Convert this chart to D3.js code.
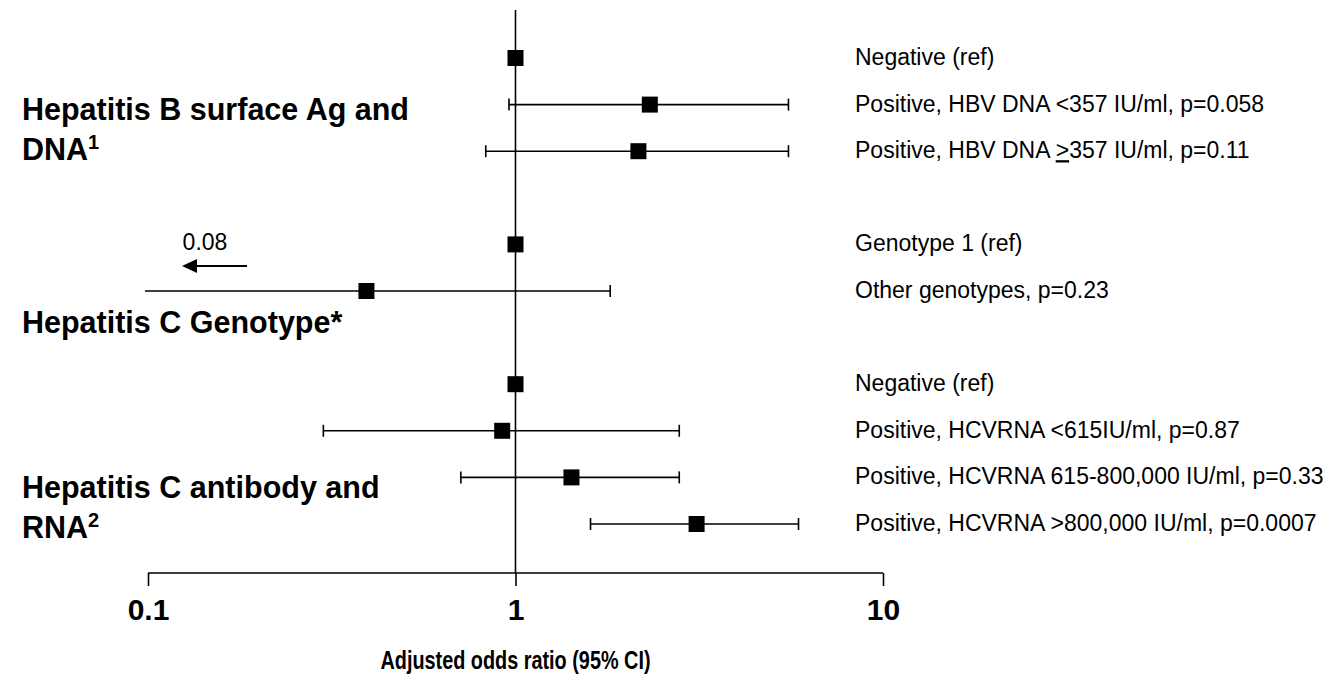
<!DOCTYPE html>
<html>
<head>
<meta charset="utf-8">
<script src="https://cdn.jsdelivr.net/npm/d3@7"></script>
<style>
	body { margin: 0; background: #fff; }
	text { font-family: "Liberation Sans", Arial, sans-serif; fill: #000; }
	.group { font-size: 30.5px; font-weight: bold; }
	.rowlabel { font-size: 23px; }
	.tick-label { font-size: 30px; font-weight: bold; }
	.axis-title { font-size: 25px; font-weight: bold; }
</style>
</head>
<body>
<script>
// rows, top to bottom; empty keys are spacer rows between groups
var rowKeys = ['hbNeg', 'hbLow', 'hbHigh', 'gap1', 'gt1', 'gtOther', 'gap2', 'hcNeg', 'hcLow', 'hcMid', 'hcHigh'];
var rowLabels = ['Negative (ref)', 'Positive, HBV DNA <357 IU/ml, p=0.058', 'Positive, HBV DNA \u2265357 IU/ml, p=0.11', '',
	'Genotype 1 (ref)', 'Other genotypes, p=0.23', '',
	'Negative (ref)', 'Positive, HCVRNA <615IU/ml, p=0.87', 'Positive, HCVRNA 615-800,000 IU/ml, p=0.33', 'Positive, HCVRNA >800,000 IU/ml, p=0.0007'];
var oddsRatio = [1, 2.32, 2.16, null, 1, 0.393, null, 1, 0.92, 1.42, 3.11];
var ciLower = [null, 0.96, 0.83, null, null, 0.08, null, null, 0.30, 0.71, 1.60];
var ciUpper = [null, 5.53, 5.53, null, null, 1.81, null, null, 2.79, 2.79, 5.89];
var tickValues = [0.1, 1, 10];
var truncatedLabel = '0.08';

var width = 1336, height = 682;

var svg = d3.select('body')
	.append('svg')
	.attr('width', width)
	.attr('height', height);

var x = d3.scaleLog()
	.domain([0.1, 10])
	.range([148, 883]);

var y = d3.scalePoint()
	.domain(rowKeys)
	.range([58, 524]);

var axisY = 573;

var rows = rowKeys.map(function(k, i) {
	return { key: k, label: rowLabels[i], or: oddsRatio[i], lo: ciLower[i], hi: ciUpper[i] };
}).filter(function(d) { return d.or !== null; });

// reference line at OR = 1
svg.append('line')
	.attr('x1', x(1)).attr('x2', x(1))
	.attr('y1', 10).attr('y2', axisY)
	.attr('stroke', '#000')
	.attr('stroke-width', 1.6);

// x axis
var axis = d3.axisBottom(x)
	.tickValues(tickValues)
	.tickSize(13)
	.tickFormat(d3.format('~g'));

var gAxis = svg.append('g')
	.attr('transform', 'translate(0,' + axisY + ')')
	.call(axis);

gAxis.select('.domain')
	.attr('d', 'M' + x(0.1) + ',0H' + x(10))
	.attr('stroke-width', 1.6);
gAxis.selectAll('.tick line')
	.attr('stroke-width', 1.6);
gAxis.selectAll('.tick text')
	.attr('class', 'tick-label')
	.attr('y', 26)
	.attr('fill', '#000')
	.style('font-family', '"Liberation Sans", Arial, sans-serif');

// title glyphs are tall and narrow in the original
svg.append('text')
	.attr('class', 'axis-title')
	.attr('x', x(1) - 135)
	.attr('y', 669)
	.attr('textLength', 270)
	.attr('lengthAdjust', 'spacingAndGlyphs')
	.text('Adjusted odds ratio (95% CI)');

// confidence intervals
var ci = rows.filter(function(d) { return d.lo !== null; });
var capH = 6;

svg.selectAll('.ci')
	.data(ci)
	.enter()
	.append('line')
	.attr('class', 'ci')
	.attr('x1', function(d) { return x(Math.max(d.lo, 0.1)) - (d.lo < 0.1 ? 3 : 0); })
	.attr('x2', function(d) { return x(d.hi); })
	.attr('y1', function(d) { return y(d.key); })
	.attr('y2', function(d) { return y(d.key); })
	.attr('stroke', '#000')
	.attr('stroke-width', 1.6);

var caps = [];
ci.forEach(function(d) {
	if (d.lo >= 0.1) caps.push({ key: d.key, v: d.lo });
	caps.push({ key: d.key, v: d.hi });
});

svg.selectAll('.cap')
	.data(caps)
	.enter()
	.append('line')
	.attr('class', 'cap')
	.attr('x1', function(d) { return x(d.v); })
	.attr('x2', function(d) { return x(d.v); })
	.attr('y1', function(d) { return y(d.key) - capH; })
	.attr('y2', function(d) { return y(d.key) + capH; })
	.attr('stroke', '#000')
	.attr('stroke-width', 1.6);

// point estimates
var sq = 16;
svg.selectAll('.pt')
	.data(rows)
	.enter()
	.append('rect')
	.attr('class', 'pt')
	.attr('x', function(d) { return x(d.or) - sq / 2; })
	.attr('y', function(d) { return y(d.key) - sq / 2; })
	.attr('width', sq)
	.attr('height', sq)
	.attr('fill', '#000');

// truncated lower limit marker (arrow pointing left)
var arrowY = y('gtOther') - 25;
var tipX = 182, baseX = 197;
svg.append('line')
	.attr('x1', 247).attr('x2', baseX)
	.attr('y1', arrowY).attr('y2', arrowY)
	.attr('stroke', '#000')
	.attr('stroke-width', 1.8);
svg.append('path')
	.attr('d', 'M' + tipX + ',' + arrowY + 'L' + baseX + ',' + (arrowY - 7) + 'L' + baseX + ',' + (arrowY + 7) + 'Z')
	.attr('fill', '#000');

svg.append('text')
	.attr('class', 'rowlabel')
	.attr('x', 205)
	.attr('y', arrowY - 16)
	.attr('text-anchor', 'middle')
	.text(truncatedLabel);

// row labels on the right
var labels = svg.selectAll('.rowlabel-r')
	.data(rows)
	.enter()
	.append('text')
	.attr('class', 'rowlabel')
	.attr('x', 855)
	.attr('y', function(d) { return y(d.key) + 7; });

labels.each(function(d) {
	var t = d3.select(this);
	var i = d.label.indexOf('\u2265');
	if (i < 0) {
		t.text(d.label);
	} else {
		t.append('tspan').text(d.label.slice(0, i));
		t.append('tspan').style('text-decoration', 'underline').text('>');
		t.append('tspan').text(d.label.slice(i + 1));
	}
});

// group labels on the left
var groups = [
	{ lines: ['Hepatitis B surface Ag and', 'DNA'], sup: '1', y0: y('hbLow') + 15 },
	{ lines: ['Hepatitis C Genotype*'], sup: '', y0: y('gtOther') + 42 },
	{ lines: ['Hepatitis C antibody and', 'RNA'], sup: '2', y0: y('hcMid') + 21 }
];

groups.forEach(function(g) {
	g.lines.forEach(function(line, i) {
		var t = svg.append('text')
			.attr('class', 'group')
			.attr('x', 22)
			.attr('y', g.y0 + i * 40)
			.text(line);
		if (i === g.lines.length - 1 && g.sup) {
			t.append('tspan')
				.attr('dy', -11)
				.style('font-size', '20px')
				.text(g.sup);
		}
	});
});
</script>
</body>
</html>
